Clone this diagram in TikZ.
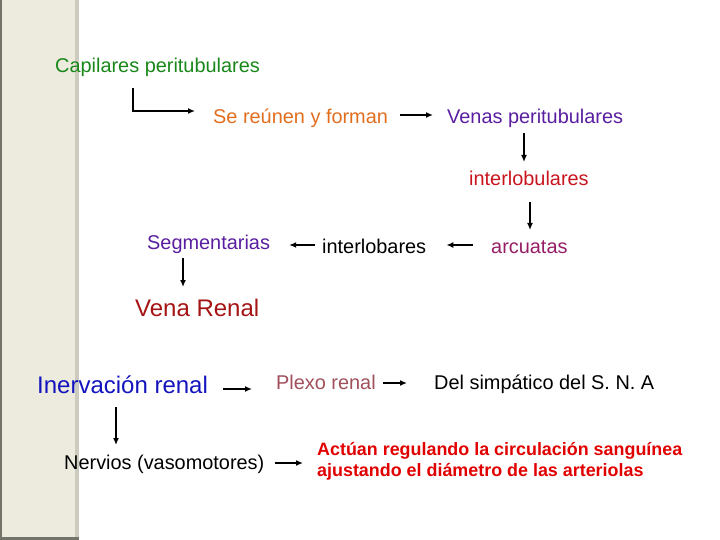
\documentclass[tikz,border=0pt]{standalone}
\usepackage{fontspec}
\setmainfont{Liberation Sans}
\usetikzlibrary{arrows.meta,calc}
\definecolor{capgreen}{RGB}{25,135,25}
\definecolor{reuorange}{RGB}{225,110,30}
\definecolor{venpurple}{RGB}{90,30,160}
\definecolor{ilured}{RGB}{200,20,30}
\definecolor{arcmag}{RGB}{150,30,100}
\definecolor{vrred}{RGB}{165,20,20}
\definecolor{inrblue}{RGB}{20,20,190}
\definecolor{plxmauve}{RGB}{160,80,90}
\definecolor{actred}{RGB}{225,0,0}
\definecolor{stripfill}{RGB}{237,235,221}
\definecolor{stripedge}{RGB}{205,203,190}
\definecolor{stripdark}{RGB}{115,115,105}
\tikzset{
  txt/.style={inner sep=0pt, anchor=base west, font=\fontsize{19.9}{22}\selectfont},
  bigtxt/.style={txt, font=\fontsize{24}{26}\selectfont},
  arr/.style={line width=1.6pt, -{Latex[length=7pt,width=6pt]}}
}
\begin{document}
\begin{tikzpicture}[x=1pt,y=-1pt]
\useasboundingbox (0,0) rectangle (720,540);
% Left strip
\fill[stripfill] (0,0) rectangle (79,540);
\fill[stripedge] (75,0) rectangle (79,540);
\fill[stripdark] (0,0) rectangle (2,540);
\fill[stripdark] (0,537) rectangle (79,540);

% Veins
\node[txt, capgreen] (cap) at (55,73) {Capilares peritubulares};
\node[txt, reuorange] (sr) at (213,124) {Se reúnen y forman};
\node[txt, venpurple] (vp) at (447,124) {Venas peritubulares};
\node[txt, ilured] (ilu) at (469,186) {interlobulares};
\node[txt, arcmag] (arc) at (491,254) {arcuatas};
\node[txt] (ilo) at (322,254) {interlobares};
\node[txt, venpurple] (seg) at (147,249) {Segmentarias};
\node[bigtxt, vrred] (vr) at (135,316) {Vena Renal};

\draw[arr] ($(cap.base west)+(78,15)$) |- ($(sr.base west)+(-18,-13)$);
\draw[arr] ($(sr.base east)+(12,-9)$) -- ($(vp.base west)+(-14,-9)$);
\draw[arr] ($(vp.base west)+(77,9)$) -- ($(ilu.base west)+(55,-24)$);
\draw[arr] ($(ilu.base west)+(61,16)$) -- ($(arc.base west)+(39,-24)$);
\draw[arr] ($(arc.base west)+(-18,-9)$) -- ($(ilo.base east)+(20,-9)$);
\draw[arr] ($(ilo.base west)+(-7,-9)$) -- ($(seg.base east)+(19,-4)$);
\draw[arr] ($(seg.base west)+(36,9)$) -- ($(vr.base west)+(48,-29)$);

% Innervation
\node[bigtxt, inrblue] (inr) at (37,393) {Inervación renal};
\node[txt, plxmauve] (plx) at (276,389) {Plexo renal};
\node[txt] (sna) at (434,389) {Del simpático del S. N. A};
\node[txt] (nrv) at (64,469) {Nervios (vasomotores)};
\node[inner sep=0pt, anchor=west, align=left, text=actred,
      font=\fontsize{17.9}{21}\selectfont\bfseries] (act) at (317,461)
  {Actúan regulando la circulación sanguínea\\ajustando el diámetro de las arteriolas};

\draw[arr] ($(inr.base east)+(15,-4)$) -- ($(plx.base west)+(-24,0)$);
\draw[arr] ($(plx.base east)+(7,-6)$) -- ($(sna.base west)+(-27,-6)$);
\draw[arr] ($(inr.base west)+(79,14)$) -- ($(nrv.base west)+(52,-24)$);
\draw[arr] ($(nrv.base east)+(10,-6)$) -- ($(act.west)+(-14,2)$);
\end{tikzpicture}
\end{document}
